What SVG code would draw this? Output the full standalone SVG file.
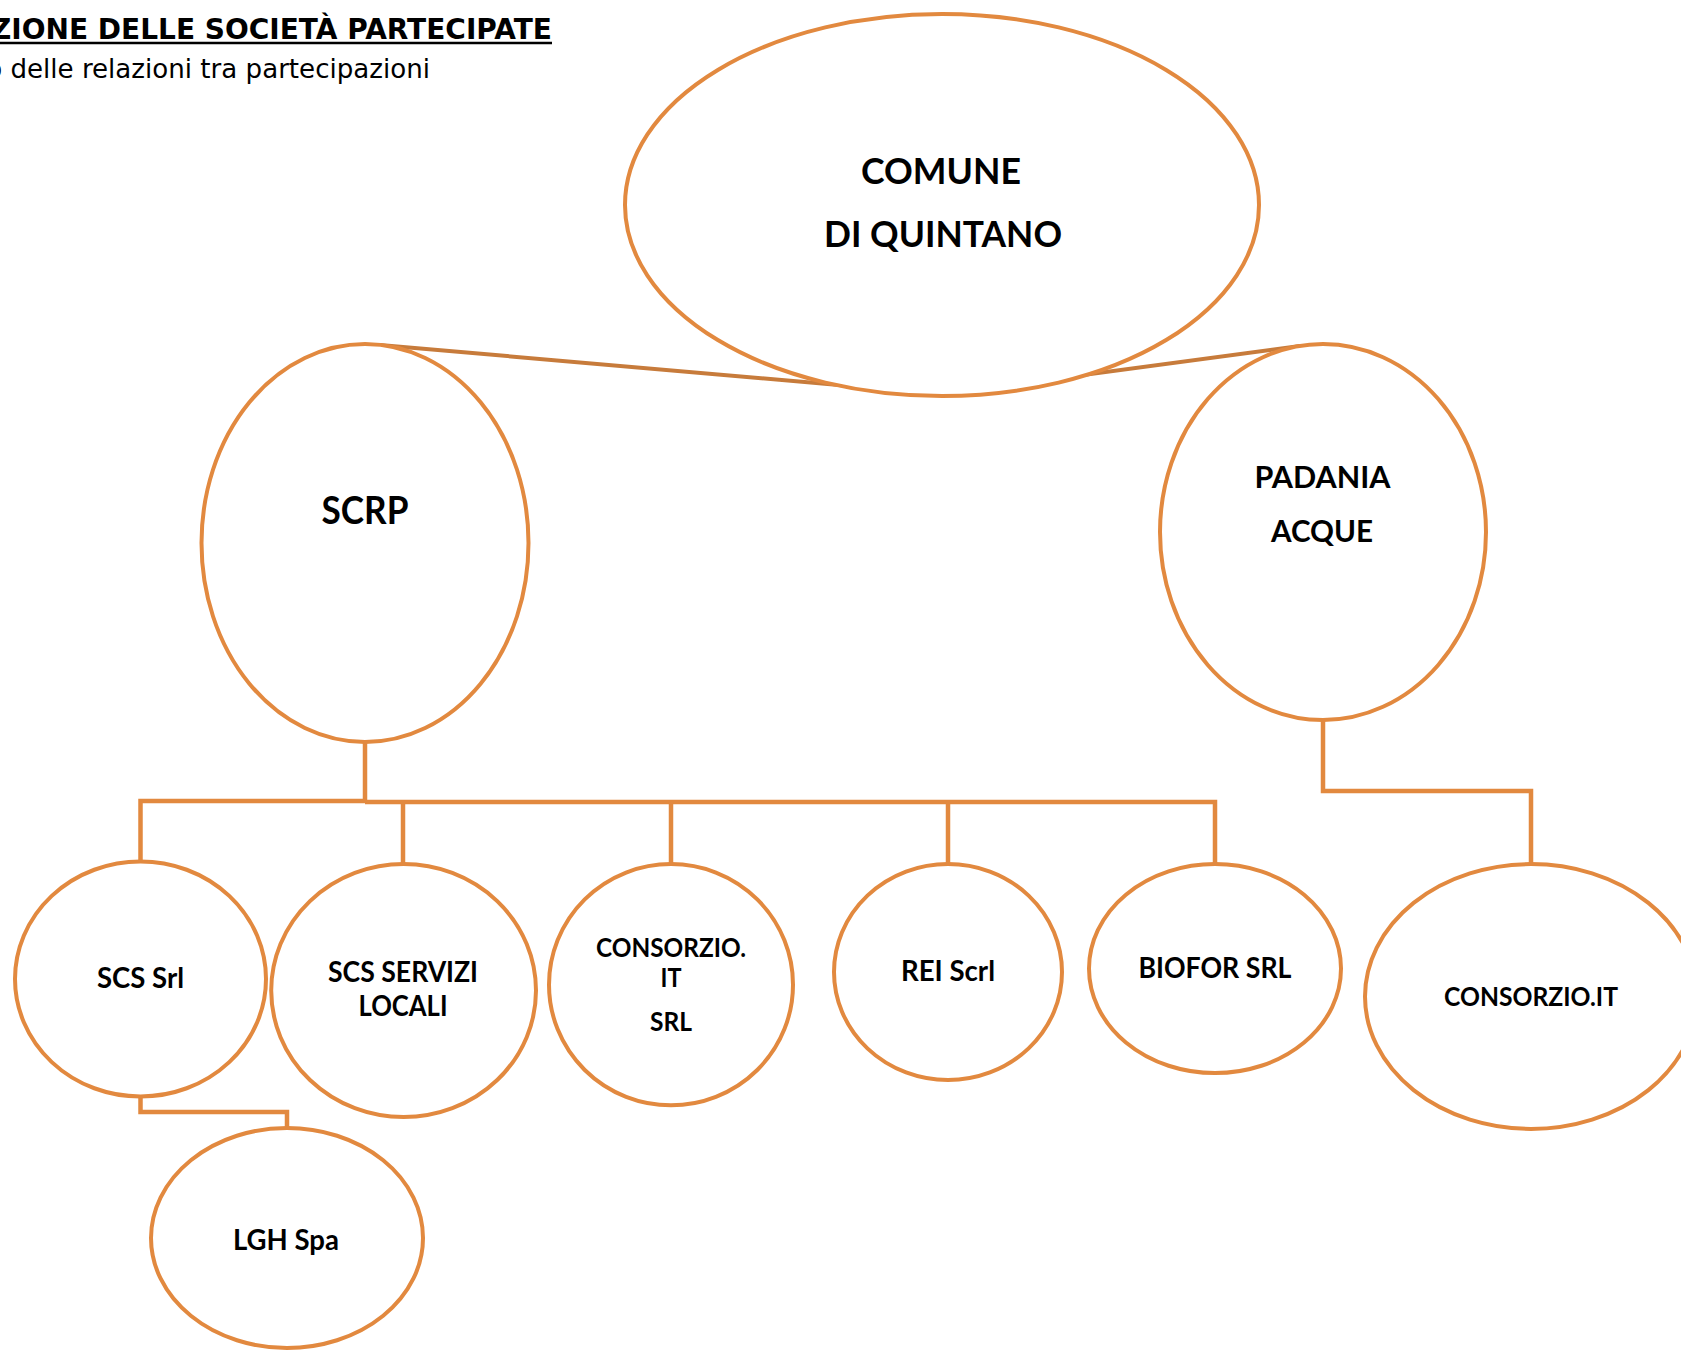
<svg xmlns="http://www.w3.org/2000/svg" width="1681" height="1351" viewBox="0 0 1681 1351">
<style>
  .node ellipse { fill: #ffffff; stroke: #E2893F; stroke-width: 4; }
  .lbl { font-family: Lato, "Open Sans", sans-serif; font-weight: bold; fill: #000000; text-anchor: middle; }
  .conn { fill: none; stroke: #E2893F; stroke-width: 4.5; stroke-linejoin: miter; }
  .top { fill: none; stroke: #C77B3B; stroke-width: 4; }
  .head { font-family: "DejaVu Sans", Verdana, sans-serif; fill: #000000; text-anchor: end; }
</style>
<rect width="1681" height="1351" fill="#ffffff"/>
<g id="heading">
  <text class="head" x="552" y="39" font-size="28" font-weight="bold">ZIONE DELLE SOCIETÀ PARTECIPATE</text>
  <line x1="0" y1="43" x2="552" y2="43" stroke="#000" stroke-width="2.5"/>
  <text class="head" x="430" y="78" font-size="26.1">o delle relazioni tra partecipazioni</text>
</g>
<g id="connectors">
  <polyline class="top" points="380,345 941,394 1300,346"/>
  <polyline class="conn" points="365,742 365,802"/>
  <polyline class="conn" points="140.5,862 140.5,801 365,801"/>
  <polyline class="conn" points="365,802 1215,802 1215,864"/>
  <line class="conn" x1="403" y1="802" x2="403" y2="864"/>
  <line class="conn" x1="671" y1="802" x2="671" y2="864"/>
  <line class="conn" x1="948" y1="802" x2="948" y2="864"/>
  <polyline class="conn" points="1323,720 1323,791 1531,791 1531,864"/>
  <polyline class="conn" points="140.5,1097 140.5,1112 287,1112 287,1128"/>
</g>
<g id="comune" class="node">
  <ellipse cx="942" cy="205" rx="317" ry="191"/>
  <text class="lbl" x="941" y="184" font-size="36" textLength="160" lengthAdjust="spacingAndGlyphs">COMUNE</text>
  <text class="lbl" x="943" y="247" font-size="36" textLength="238" lengthAdjust="spacingAndGlyphs">DI QUINTANO</text>
</g>
<g id="scrp" class="node">
  <ellipse cx="365" cy="543" rx="163.5" ry="199"/>
  <text class="lbl" x="365" y="524" font-size="38" textLength="87" lengthAdjust="spacingAndGlyphs">SCRP</text>
</g>
<g id="padania" class="node">
  <ellipse cx="1323" cy="532" rx="163" ry="188"/>
  <text class="lbl" x="1322.5" y="488" font-size="31" textLength="136" lengthAdjust="spacingAndGlyphs">PADANIA</text>
  <text class="lbl" x="1322" y="542" font-size="31" textLength="102" lengthAdjust="spacingAndGlyphs">ACQUE</text>
</g>
<g id="scs-srl" class="node">
  <ellipse cx="140.5" cy="979" rx="125.5" ry="117.5"/>
  <text class="lbl" x="140.5" y="988" font-size="28" textLength="87" lengthAdjust="spacingAndGlyphs">SCS Srl</text>
</g>
<g id="scs-servizi-locali" class="node">
  <ellipse cx="403.6" cy="990.6" rx="132.4" ry="126.5"/>
  <text class="lbl" x="403" y="982" font-size="28" textLength="150" lengthAdjust="spacingAndGlyphs">SCS SERVIZI</text>
  <text class="lbl" x="403" y="1016" font-size="28" textLength="89" lengthAdjust="spacingAndGlyphs">LOCALI</text>
</g>
<g id="consorzio-it-srl" class="node">
  <ellipse cx="671" cy="984.7" rx="122" ry="120.6"/>
  <text class="lbl" x="671" y="957" font-size="26" textLength="150" lengthAdjust="spacingAndGlyphs">CONSORZIO.</text>
  <text class="lbl" x="671" y="987" font-size="26" textLength="21" lengthAdjust="spacingAndGlyphs">IT</text>
  <text class="lbl" x="671" y="1031" font-size="26" textLength="42" lengthAdjust="spacingAndGlyphs">SRL</text>
</g>
<g id="rei-scrl" class="node">
  <ellipse cx="948" cy="972" rx="114" ry="108"/>
  <text class="lbl" x="948" y="981" font-size="28" textLength="94" lengthAdjust="spacingAndGlyphs">REI Scrl</text>
</g>
<g id="biofor-srl" class="node">
  <ellipse cx="1215" cy="968.6" rx="126" ry="104.5"/>
  <text class="lbl" x="1215" y="978" font-size="28" textLength="153" lengthAdjust="spacingAndGlyphs">BIOFOR SRL</text>
</g>
<g id="consorzio-it" class="node">
  <ellipse cx="1531" cy="996.5" rx="166" ry="132.4"/>
  <text class="lbl" x="1531" y="1006" font-size="27" textLength="174" lengthAdjust="spacingAndGlyphs">CONSORZIO.IT</text>
</g>
<g id="lgh-spa" class="node">
  <ellipse cx="287" cy="1238" rx="136" ry="110"/>
  <text class="lbl" x="286" y="1250" font-size="28" textLength="106" lengthAdjust="spacingAndGlyphs">LGH Spa</text>
</g>
</svg>
